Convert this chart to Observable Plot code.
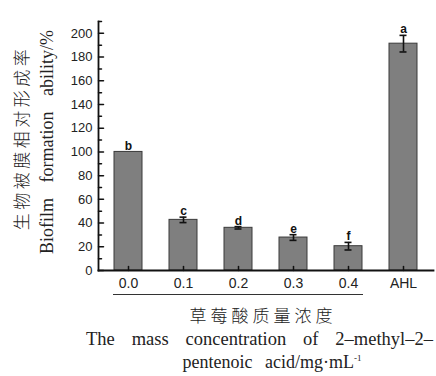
<!DOCTYPE html>
<html><head><meta charset="utf-8">
<script src="https://cdn.jsdelivr.net/npm/d3@7"></script>
<script src="https://cdn.jsdelivr.net/npm/@observablehq/plot@0.6"></script>
<style>
body{margin:0;background:#fff;width:436px;height:376px;overflow:hidden;position:relative}
#chart{position:absolute;left:0;top:0}
.rot{position:absolute;white-space:nowrap;text-align:center;transform:rotate(-90deg);color:#222}
.cap{position:absolute;white-space:nowrap;text-align:center;color:#222;font-family:"Liberation Serif",serif}
</style></head><body>
<div id="chart"></div>
<div class="rot" style="left:-79px;top:128px;width:200px;height:20px;line-height:20px;font-family:'Noto Sans CJK SC';font-weight:300;font-size:17px;letter-spacing:3.5px">生物被膜相对形成率</div>
<div class="rot" style="left:-83px;top:131px;width:260px;height:22px;line-height:22px;font-family:'Liberation Serif',serif;font-size:18px;word-spacing:11px">Biofilm formation ability/%</div>
<div style="position:absolute;left:113px;top:294px;width:250px;border-top:1.3px solid #333"></div>
<div class="cap" style="left:163px;top:304px;width:200px;font-family:'Noto Sans CJK SC';font-weight:300;font-size:17px;letter-spacing:4px;line-height:22px">草莓酸质量浓度</div>
<div class="cap" style="left:86px;top:328px;width:347px;font-size:18.5px;line-height:22px;white-space:normal;text-align:justify;text-align-last:justify">The mass concentration of 2–methyl–2–</div>
<div class="cap" style="left:172px;top:351px;width:200px;font-size:18px;word-spacing:8px;line-height:22px">pentenoic acid/mg·mL<sup style="font-size:9px;line-height:0">-1</sup></div>
<script>
const categories = ["0.0", "0.1", "0.2", "0.3", "0.4", "AHL"];
const values = [100, 42.7, 36, 27.8, 20.5, 191.3];
const errors = [0, 2.3, 1, 2.4, 3.2, 7];
const letters = ["b", "c", "d", "e", "f", "a"];
const yMajor = [0, 20, 40, 60, 80, 100, 120, 140, 160, 180, 200];
const yMinor = [10, 30, 50, 70, 90, 110, 130, 150, 170, 190, 210];

const data = categories.map((c, i) => ({cat: c, v: values[i], e: errors[i], L: letters[i]}));
const errData = data.filter(d => d.e > 0);
const tickShape = {draw(ctx, l) { ctx.moveTo(0, 0); ctx.lineTo(0, -l); }};

const chart = Plot.plot({
  width: 436,
  height: 300,
  marginTop: 21,
  marginBottom: 30,
  marginLeft: 98,
  marginRight: 3,
  style: {background: "transparent", fontFamily: "'Liberation Sans', Arial, sans-serif", color: "#222"},
  x: {domain: categories, paddingInner: 0.5, paddingOuter: 0.25, label: null},
  y: {domain: [0, 210], label: null},
  marks: [
    Plot.barY(data, {x: "cat", y: "v", fill: "#7f7f7f", stroke: "#3a3a3a", strokeWidth: 1}),
    Plot.ruleX(errData, {x: "cat", y1: d => d.v - d.e, y2: d => d.v + d.e, stroke: "#111", strokeWidth: 1.6}),
    Plot.tickY(errData, {x: "cat", y: d => d.v + d.e, stroke: "#111", strokeWidth: 1.6, insetLeft: 10.5, insetRight: 10.5}),
    Plot.tickY(errData, {x: "cat", y: d => d.v - d.e, stroke: "#111", strokeWidth: 1.6, insetLeft: 10.5, insetRight: 10.5}),
    Plot.text(data, {x: "cat", y: d => d.v + d.e, text: "L", dy: -2, lineAnchor: "bottom", fontWeight: "bold", fontSize: 12, fill: "#111"}),
    Plot.axisY({ticks: yMajor, tickSize: 0, tickPadding: 6, fontSize: 13}),
    Plot.axisX({tickSize: 0, tickPadding: 8, fontSize: 14}),
    Plot.vector(yMajor, {y: d => d, frameAnchor: "left", length: 5, rotate: 90, anchor: "start", shape: tickShape, stroke: "#111", strokeWidth: 1.5}),
    Plot.vector(yMinor, {y: d => d, frameAnchor: "left", length: 3, rotate: 90, anchor: "start", shape: tickShape, stroke: "#111", strokeWidth: 1.5}),
    Plot.vector(categories, {x: d => d, frameAnchor: "bottom", length: 4, rotate: 0, anchor: "start", shape: tickShape, stroke: "#111", strokeWidth: 1.5}),
    Plot.frame({anchor: "left", stroke: "#111", strokeWidth: 1.8}),
    Plot.frame({anchor: "bottom", stroke: "#111", strokeWidth: 1.8})
  ]
});
document.getElementById("chart").appendChild(chart);
</script>
</body></html>
